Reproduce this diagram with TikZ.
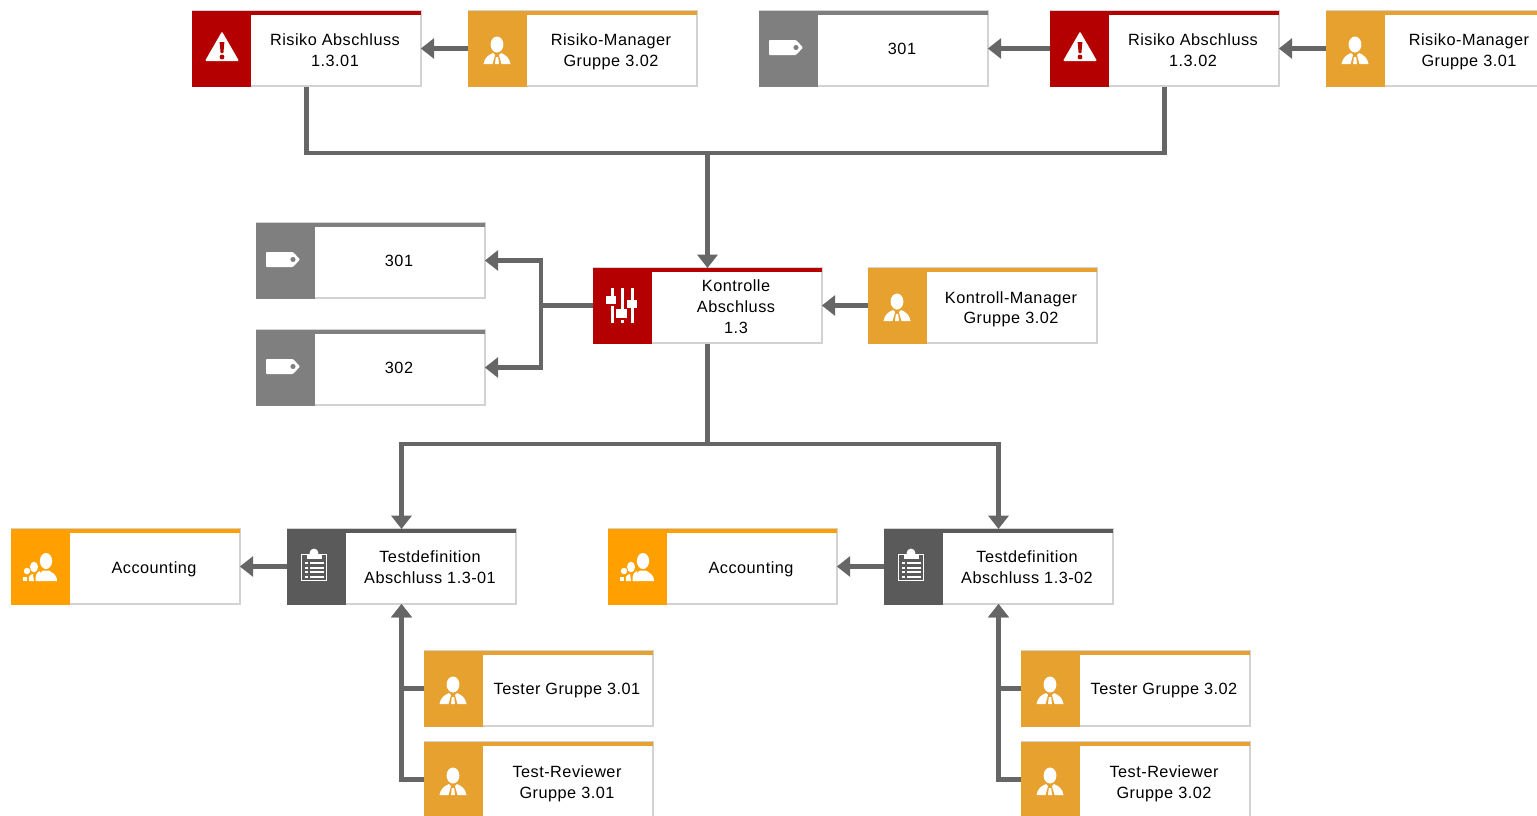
\documentclass[tikz,border=0pt]{standalone}
\usepackage{fontspec}
\setmainfont{Liberation Sans}
\usetikzlibrary{arrows.meta}
\definecolor{cRed}{HTML}{B50000}
\definecolor{cOrange}{HTML}{E6A12E}
\definecolor{cAmber}{HTML}{FFA000}
\definecolor{cGray}{HTML}{7F7F7F}
\definecolor{cDark}{HTML}{5A5A5A}
\definecolor{cLine}{HTML}{666666}
\definecolor{cEdge}{HTML}{D2D2D2}
\tikzset{
  x=0.75pt,y=-0.75pt,
  cardbox/.style={draw=cEdge,line width=1.1pt,fill=white,minimum width=171.4pt,minimum height=56.2pt,inner sep=0pt},
  cardtext/.style={align=center,inner sep=0pt,text=black,font=\fontsize{12.2}{15.7}\selectfont\addfontfeature{LetterSpace=3}},
  link/.style={draw=cLine,line width=3.6pt},
  arrowlink/.style={link,-{Triangle[length=10pt,width=15pt]},shorten >=-0.5pt},
}
% icons: #1 x, #2 y of the centre of the colour square, #3 colour
\newcommand{\iconPerson}[3]{\begin{scope}[shift={(#1,#2)}]
  \fill[white] (0,-3.5) ellipse [x radius=6.4pt*0.75,y radius=8pt*0.75];
  \fill[white] (-13.5,16) .. controls (-12.5,10) and (-9,7) .. (-4,5) -- (-2,7) -- (-4.5,16) -- cycle;
  \fill[white] (13.5,16) .. controls (12.5,10) and (9,7) .. (4,5) -- (2,7) -- (4.5,16) -- cycle;
  \fill[white] (-1.2,9) -- (1.2,9) -- (2,16) -- (-2,16) -- cycle;
\end{scope}}
\newcommand{\iconWarn}[3]{\begin{scope}[shift={(#1,#2)}]
  \fill[white,rounded corners=0.8pt] (1,-16.5) -- (18,13) -- (-16,13) -- cycle;
  \fill[#3] (-1.4,-6) -- (3.4,-6) -- (2.4,5) -- (-0.4,5) -- cycle;
  \fill[#3] (1,9) circle [radius=1.8pt];
\end{scope}}
\newcommand{\iconTag}[3]{\begin{scope}[shift={(#1,#2)}]
  \fill[white,rounded corners=0.7pt] (-19,-8) -- (8,-8) -- (15,-0.5) -- (8,7) -- (-19,7) -- cycle;
  \fill[#3] (8,-0.5) circle [radius=1.9pt];
\end{scope}}
\newcommand{\iconSliders}[3]{\begin{scope}[shift={(#1,#2)}]
  \fill[white] (-11.5,-17) rectangle (-8.5,18);
  \fill[white] (-1.5,-17) rectangle (1.5,18);
  \fill[white] (8.5,-17) rectangle (11.5,18);
  \fill[white] (-16,-9) rectangle (-6,-1);
  \fill[white] (-6,4) rectangle (5,13);
  \fill[white] (5,-5) rectangle (15,3);
  \fill[#3] (-11.5,-1) rectangle (-8.5,0.5);
  \fill[#3] (-1.5,13) rectangle (1.5,14.5);
\end{scope}}
\newcommand{\iconClip}[3]{\begin{scope}[shift={(#1,#2)}]
  \draw[white,line width=1.1pt] (-14.5,-11.5) rectangle (10.5,14.5);
  \fill[white] (-9.5,-12.5) rectangle (5.5,-7.5);
  \fill[white] (-2,-13) circle [radius=3.3pt];
  \fill[white] (-11,-4.5) rectangle (-8.5,-2.5);\fill[white] (-6.5,-4.5) rectangle (7.5,-2.5);
  \fill[white] (-11,0.5) rectangle (-8.5,2.5);\fill[white] (-6.5,0.5) rectangle (7.5,2.5);
  \fill[white] (-11,5) rectangle (-8.5,7);\fill[white] (-6.5,5) rectangle (7.5,7);
  \fill[white] (-11,9.5) rectangle (-8.5,11.5);\fill[white] (-6.5,9.5) rectangle (7.5,11.5);
\end{scope}}
\newcommand{\iconGroup}[3]{\begin{scope}[shift={(#1,#2)}]
  \fill[white] (-17,15) rectangle (-13,11);
  \fill[white] (-13,5) circle [radius=2.4pt];
  \fill[white] (-11,15) .. controls (-12,10) and (-10,9) .. (-7,8) -- (-6,15) -- cycle;
  \fill[white] (-6,1) ellipse [x radius=3pt,y radius=4pt];
  \fill[white] (-4.5,15) .. controls (-5,9) and (-3,6) .. (0,5) -- (1,15) -- cycle;
  \fill[white] (6,-5) ellipse [x radius=4.6pt,y radius=6pt];
  \fill[white] (-1.5,15) .. controls (-2,9) and (0,6.5) .. (3,4.5) -- (9,4.5) .. controls (12,7) and (17,8) .. (17,15) -- cycle;
\end{scope}}
% card: #1 name, #2 left, #3 top, #4 colour, #5 icon, #6 text, #7 text offset
\newcommand{\card}[7]{%
  \node[cardbox] (#1) at ({#2+114.5},{#3+37.5}) {};
  \fill[#4] ({#2+0.1},#3) rectangle ({#2+229},{#3+4});
  \fill[#4] ({#2+0.1},#3) rectangle ({#2+59},{#3+75.5});
  #5{{#2+29}}{{#3+37}}{#4}
  \node[cardtext] (#1text) at ({#2+143},{#3+38+#7}) {#6};
}
\begin{document}
\begin{tikzpicture}
\useasboundingbox (0,0) rectangle (1537,815);
\clip (0,0) rectangle (1537,815);
\fill[white] (0,0) rectangle (1537,815);
\card{riskA}{192}{11}{cRed}{\iconWarn}{\strut Risiko Abschluss\\\strut 1.3.01}{2.5}
\card{mgrA}{468}{11}{cOrange}{\iconPerson}{\strut Risiko-Manager\\\strut Gruppe 3.02}{2.5}
\card{tagTop}{759}{11}{cGray}{\iconTag}{\strut 301}{1}
\card{riskB}{1050}{11}{cRed}{\iconWarn}{\strut Risiko Abschluss\\\strut 1.3.02}{2.5}
\card{mgrB}{1326}{11}{cOrange}{\iconPerson}{\strut Risiko-Manager\\\strut Gruppe 3.01}{2.5}
\card{tagA}{256}{223}{cGray}{\iconTag}{\strut 301}{1.5}
\card{tagB}{256}{330}{cGray}{\iconTag}{\strut 302}{1.5}
\card{ctrl}{593}{268}{cRed}{\iconSliders}{\strut Kontrolle\\\strut Abschluss\\\strut 1.3}{2}
\card{ctrlMgr}{868}{268}{cOrange}{\iconPerson}{\strut Kontroll-Manager\\[-1pt]\strut Gruppe 3.02}{3.5}
\card{accA}{11}{529}{cAmber}{\iconGroup}{\strut Accounting}{2}
\card{testA}{287}{529}{cDark}{\iconClip}{\strut Testdefinition\\\strut Abschluss 1.3-01}{2}
\card{accB}{608}{529}{cAmber}{\iconGroup}{\strut Accounting}{2}
\card{testB}{884}{529}{cDark}{\iconClip}{\strut Testdefinition\\\strut Abschluss 1.3-02}{2}
\card{testerA}{424}{651}{cOrange}{\iconPerson}{\strut Tester Gruppe 3.01}{1}
\card{revA}{424}{742}{cOrange}{\iconPerson}{\strut Test-Reviewer\\\strut Gruppe 3.01}{4}
\card{testerB}{1021}{651}{cOrange}{\iconPerson}{\strut Tester Gruppe 3.02}{1}
\card{revB}{1021}{742}{cOrange}{\iconPerson}{\strut Test-Reviewer\\\strut Gruppe 3.02}{4}
\coordinate (topJoin) at (ctrl.north |- 0,153);
\coordinate (leftJoin) at (541,0 |- ctrl.west);
\coordinate (botJoin) at (ctrl.south |- 0,444);
\draw[link] (riskA.south) |- (topJoin) -| (riskB.south);
\draw[arrowlink] (topJoin) -- (ctrl.north);
\draw[arrowlink] (mgrA.west) -- (riskA.east);
\draw[arrowlink] (riskB.west) -- (tagTop.east);
\draw[arrowlink] (mgrB.west) -- (riskB.east);
\draw[link] (ctrl.west) -- (leftJoin);
\draw[arrowlink] (leftJoin) |- (tagA.east);
\draw[arrowlink] (leftJoin) |- (tagB.east);
\draw[arrowlink] (ctrlMgr.west) -- (ctrl.east);
\draw[link] (ctrl.south) -- (botJoin);
\draw[arrowlink] (botJoin) -| (testA.north);
\draw[arrowlink] (botJoin) -| (testB.north);
\draw[arrowlink] (testA.west) -- (accA.east);
\draw[arrowlink] (testB.west) -- (accB.east);
\draw[arrowlink] (testerA.west) -| (testA.south);
\draw[arrowlink] (revA.west) -| (testA.south);
\draw[arrowlink] (testerB.west) -| (testB.south);
\draw[arrowlink] (revB.west) -| (testB.south);
\end{tikzpicture}
\end{document}
